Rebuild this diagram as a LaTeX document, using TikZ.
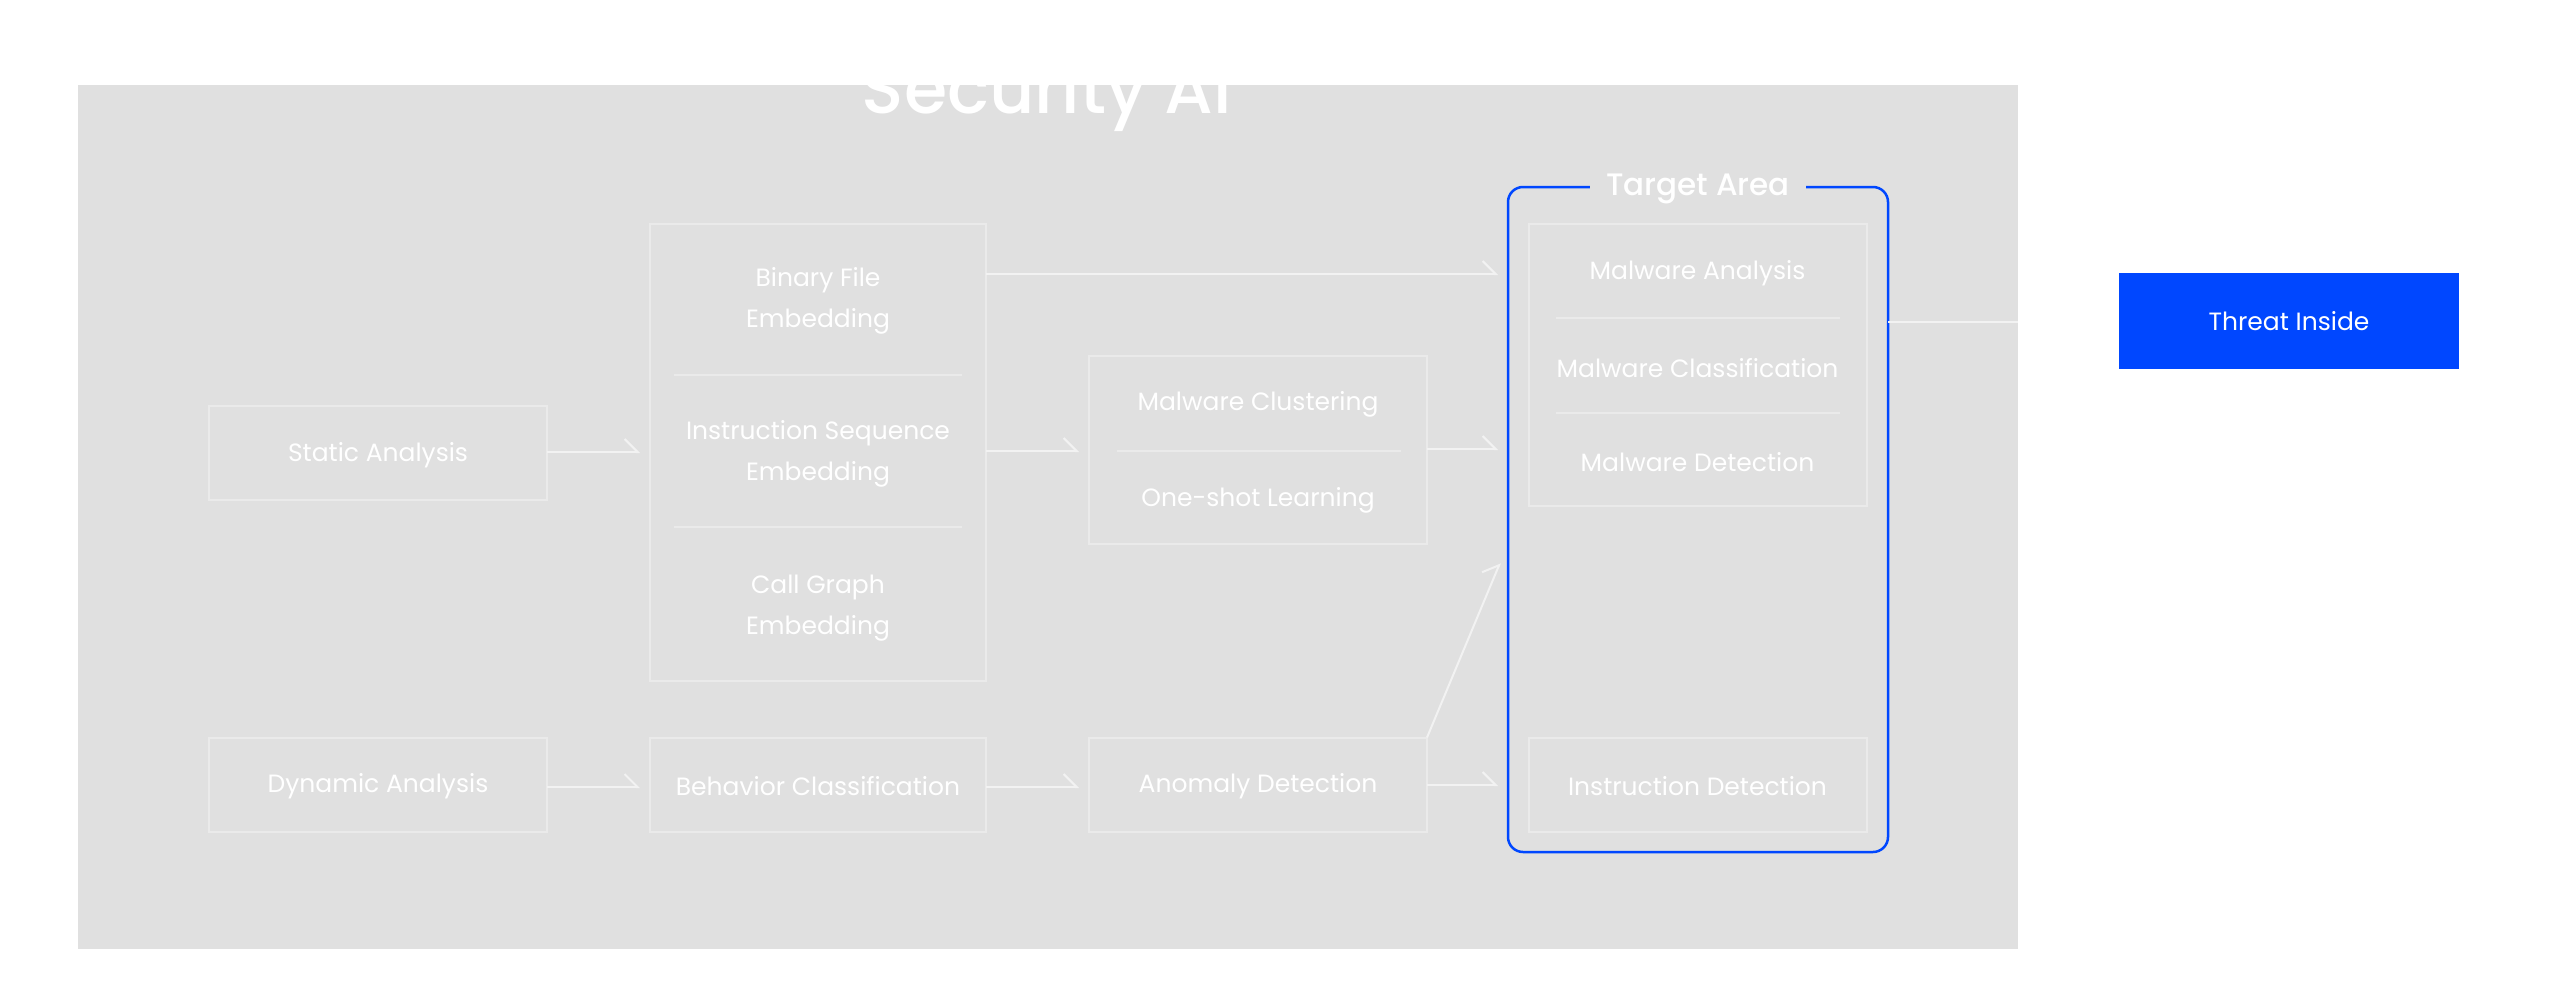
\documentclass[tikz,border=0pt]{standalone}
\usepackage{fontspec}
\setmainfont{Poppins}
\newfontfamily\medfont{Poppins Medium}
\usetikzlibrary{arrows.meta,calc}
\definecolor{bggray}{HTML}{E0E0E0}
\definecolor{boxline}{HTML}{EAEAEA}
\definecolor{conn}{HTML}{F2F2F2}
\definecolor{tblue}{HTML}{0047FF}
\begin{document}
\begin{tikzpicture}[x=1pt,y=-1pt,
  box/.style={draw=boxline, line width=2pt, outer sep=0pt, inner sep=0pt, minimum width=338pt, minimum height=94pt},
  lbl/.style={text=white, font=\fontsize{25}{41}\selectfont, align=center, inner sep=0pt, yshift=-2pt},
  divider/.style={draw=boxline, line width=2pt},
  arr/.style={draw=conn, line width=2pt, -{Straight Barb[harpoon, length=13pt, width=26pt]}, shorten >=10pt},
  conline/.style={draw=conn, line width=2pt}
]
\useasboundingbox (0,0) rectangle (2560,1001);
\node[fill=bggray, minimum width=1940pt, minimum height=864pt, inner sep=0pt, outer sep=0pt] (bg) at (1048,517) {};
\node[anchor=base, text=white, font=\medfont\fontsize{70}{70}\selectfont, inner sep=0pt] (title) at (1047,113) {Security AI};

% boxes
\node[box] (static) at (378,453) {};
\node[lbl] (statict) at (static) {Static Analysis};
\node[box] (dyn) at (378,784.5) {};
\node[lbl] (dynt) at (dyn) {Dynamic Analysis};

\node[box, minimum width=336pt, minimum height=457pt] (emb) at (818,452.5) {};
\draw[divider] (674,375) -- (962,375);
\draw[divider] (674,527) -- (962,527);
\node[lbl] (emb1) at (818,299) {Binary File\\Embedding};
\node[lbl] (emb2) at (818,451.5) {Instruction Sequence\\Embedding};
\node[lbl] (emb3) at (818,606) {Call Graph\\Embedding};

\node[box, minimum width=336pt] (beh) at (818,784.5) {};
\node[lbl] (beht) at (beh) {Behavior Classification};

\node[box, minimum height=188pt] (clus) at (1258,450) {};
\draw[divider] (1117,451) -- (1401,451);
\node[lbl] (clus1) at (1258,402) {Malware Clustering};
\node[lbl] (clus2) at (1258,498) {One-shot Learning};

\node[box] (anom) at (1258,784.5) {};
\node[lbl] (anomt) at (anom) {Anomaly Detection};

% target area
\node[draw=tblue, line width=2.5pt, rounded corners=15pt, minimum width=380pt, minimum height=665pt, inner sep=0pt, outer sep=0pt] (target) at (1698,519.5) {};
\node[anchor=base, fill=bggray, text=white, font=\medfont\fontsize{31}{31}\selectfont, inner xsep=16pt, inner ysep=4pt] (tlabel) at (1698,195) {Target Area};

\node[box, minimum height=282pt] (mal) at (1697.5,365) {};
\draw[divider] (1556,318) -- (1840,318);
\draw[divider] (1556,413) -- (1840,413);
\node[lbl] (mal1) at (1697.5,271) {Malware Analysis};
\node[lbl] (mal2) at (1697.5,366) {Malware Classification};
\node[lbl] (mal3) at (1697.5,460) {Malware Detection};

\node[box] (instr) at (1697.5,784.5) {};
\node[lbl] (instrt) at (instr) {Instruction Detection};

% threat inside
\node[fill=tblue, minimum width=340pt, minimum height=96pt, inner sep=0pt, text=white, font=\fontsize{25}{25}\selectfont] (threat) at (2289,321) {Threat Inside};

% connectors
\coordinate (binrow) at (0,274);
\coordinate (outrow) at (0,322);
\coordinate (diagEnd) at (1500,563);
\draw[arr] (static.east |- 0,452) -- (emb.west |- 0,452);
\draw[arr] (emb.east |- 0,451) -- (clus.west |- 0,451);
\draw[arr] (emb.east |- binrow) -- (target.west |- binrow);
\draw[arr] (clus.east |- 0,449) -- (target.west |- 0,449);
\draw[arr] (dyn.east |- 0,787) -- (beh.west |- 0,787);
\draw[arr] (beh.east |- 0,787) -- (anom.west |- 0,787);
\draw[arr] (anom.east |- 0,785) -- (target.west |- 0,785);
\draw[arr, shorten >=0pt] (anom.north east) -- (diagEnd);
\draw[conline] (target.east |- outrow) -- (bg.east |- outrow);
\end{tikzpicture}
\end{document}
